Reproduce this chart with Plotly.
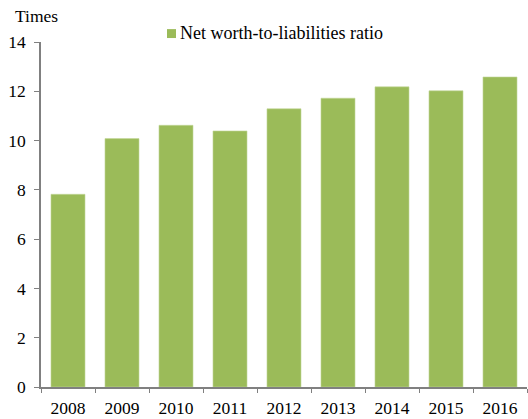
import plotly.graph_objects as go

years = ["2008", "2009", "2010", "2011", "2012", "2013", "2014", "2015", "2016"]
ratio = [7.82, 10.08, 10.62, 10.39, 11.29, 11.72, 12.18, 12.02, 12.58]
y_ticks = [0, 2, 4, 6, 8, 10, 12, 14]
series_name = "Net worth-to-liabilities ratio"

GREEN = "#9BBB59"
AXIS = "#808080"
FONT = dict(family="Liberation Serif, Times New Roman, serif", size=17.5, color="#000000")

fig = go.Figure()
fig.add_trace(go.Bar(
    x=years, y=ratio, name=series_name, showlegend=False,
    marker=dict(color=GREEN, line=dict(color="#C3D69B", width=0.6)),
))

# compact legend key: small square followed by the series name
fig.add_shape(type="rect", xref="paper", yref="paper",
              x0=(167 - 41) / 486, x1=(176 - 41) / 486,
              y0=1 + (42 - 38) / 348, y1=1 + (42 - 29) / 348,
              fillcolor=GREEN, line=dict(width=0))

fig.update_layout(
    width=528, height=419,
    margin=dict(l=41, r=1, t=42, b=29),
    paper_bgcolor="white", plot_bgcolor="white",
    font=FONT,
    bargap=0.37,
    xaxis=dict(showline=True, linecolor=AXIS, linewidth=1.5, ticks="outside",
               tickson="boundaries", ticklen=4, tickcolor=AXIS, tickfont=FONT,
               ticklabelstandoff=4, showgrid=False, zeroline=False),
    yaxis=dict(range=[0, 14], tickvals=y_ticks, showline=True, linecolor=AXIS,
               linewidth=1.5, ticks="outside", ticklen=5, tickcolor=AXIS,
               tickfont=FONT, ticklabelstandoff=5, showgrid=False, zeroline=False),
    annotations=[
        dict(text="Times", xref="paper", yref="paper", x=(13 - 41) / 486,
             y=1 + (42 - 16) / 348, xanchor="left", yanchor="middle",
             showarrow=False, font=FONT),
        dict(text=series_name, xref="paper", yref="paper", x=(178 - 41) / 486,
             y=1 + (42 - 33) / 348, xanchor="left", yanchor="middle",
             showarrow=False, font=dict(FONT, size=18)),
    ],
)

fig.write_html("out.html")
